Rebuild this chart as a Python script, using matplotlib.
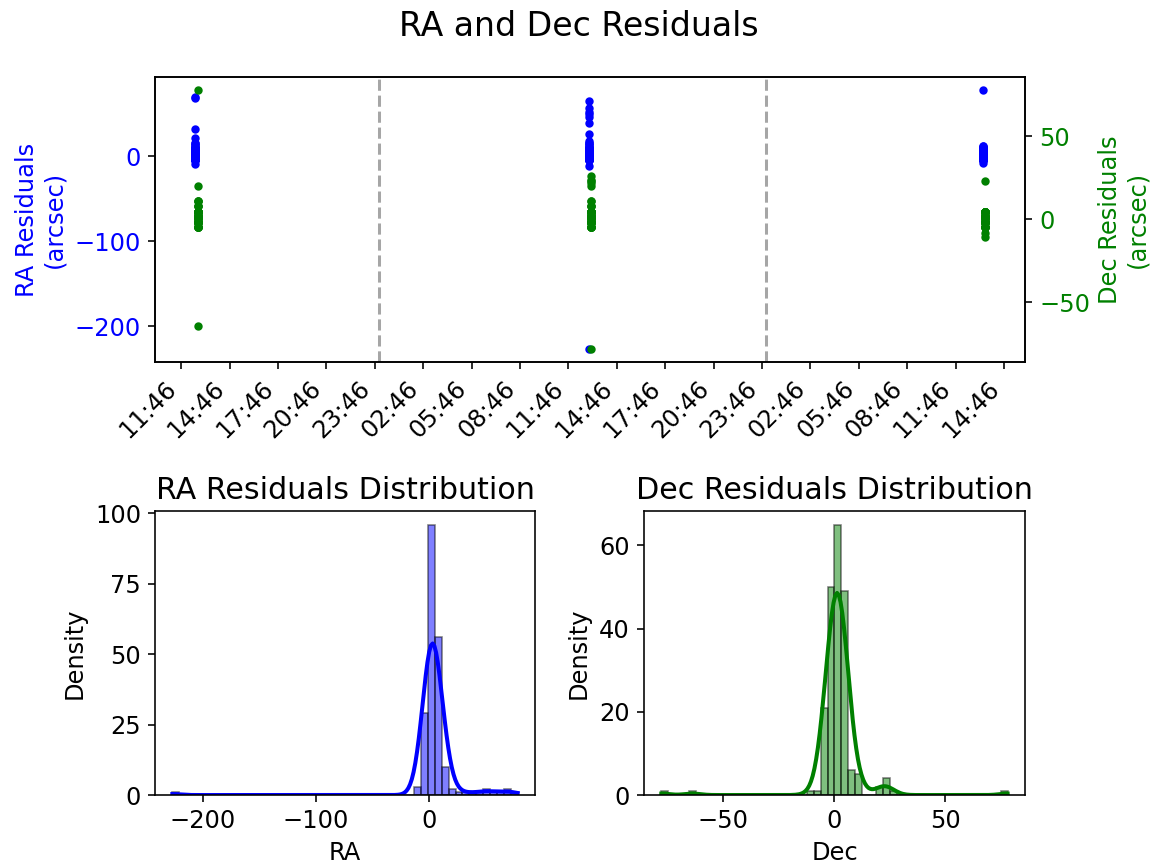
import numpy as np
import pandas as pd
import matplotlib
matplotlib.use("Agg")
import matplotlib.pyplot as plt
import matplotlib.dates as mdates

plt.rcParams["font.size"] = 12

# observation times of the three nights (RA and Dec points sit a few minutes apart)
ra_times = ["2023-01-10 12:36", "2023-01-11 13:01", "2023-01-12 13:27"]
dec_times = ["2023-01-10 12:47", "2023-01-11 13:10", "2023-01-12 13:37"]
midnights = ["2023-01-11 00:00", "2023-01-12 00:00"]
tick_start = "2023-01-10 11:46"

# RA residuals (arcsec) per night: value and how many frames gave it
ra_vals_n1 = [-9.5, -5, -3, 0, 3, 6.5, 9.5, 13, 16, 21, 32, 68, 70]
ra_cnts_n1 = [1, 5, 5, 16, 16, 10, 9, 2, 2, 1, 1, 1, 1]
ra_vals_n2 = [-227, -12, -5, -3, 0, 3, 6.5, 9.5, 13, 16, 18, 25.5, 39, 46, 50, 52, 57, 65]
ra_cnts_n2 = [1, 1, 5, 5, 16, 16, 9, 9, 2, 2, 1, 1, 1, 1, 1, 1, 1, 1]
ra_vals_n3 = [-8.5, -5, -3, 0, 3, 6.5, 9.5, 12.5, 78]
ra_cnts_n3 = [1, 5, 4, 16, 16, 10, 9, 2, 1]

# Dec residuals (arcsec) per night
dec_vals_n1 = [-64, -4.7, -1.5, 1.5, 4.7, 7.8, 11, 20, 78]
dec_cnts_n1 = [1, 7, 16, 22, 16, 3, 3, 1, 1]
dec_vals_n2 = [-78, -4.7, -1.5, 1.5, 4.7, 7.8, 11, 20, 22, 23, 24, 26]
dec_cnts_n2 = [1, 7, 17, 22, 17, 3, 2, 1, 1, 1, 1, 1]
dec_vals_n3 = [-10.5, -8, -4.7, -1.5, 1.5, 4.7, 23]
dec_cnts_n3 = [1, 1, 7, 17, 21, 16, 1]


def expand(vals, cnts):
    return np.repeat(np.array(vals, dtype=float), cnts)


ra_nights = [expand(ra_vals_n1, ra_cnts_n1), expand(ra_vals_n2, ra_cnts_n2), expand(ra_vals_n3, ra_cnts_n3)]
dec_nights = [expand(dec_vals_n1, dec_cnts_n1), expand(dec_vals_n2, dec_cnts_n2), expand(dec_vals_n3, dec_cnts_n3)]

ra = np.concatenate(ra_nights)
dec = np.concatenate(dec_nights)
t_ra = np.concatenate([[pd.Timestamp(t).to_pydatetime()] * len(v) for t, v in zip(ra_times, ra_nights)])
t_dec = np.concatenate([[pd.Timestamp(t).to_pydatetime()] * len(v) for t, v in zip(dec_times, dec_nights)])


def kde_counts(x, bins=50, npts=200):
    # gaussian kde (scott), scaled to counts like a histogram with kde line
    n = len(x)
    bw = np.std(x, ddof=1) * n ** (-1 / 5)
    grid = np.linspace(x.min(), x.max(), npts)
    dens = np.exp(-0.5 * ((grid[:, None] - x[None, :]) / bw) ** 2).sum(axis=1)
    dens = dens / (n * bw * np.sqrt(2 * np.pi))
    binw = (x.max() - x.min()) / bins
    return grid, dens * n * binw


fig = plt.figure(figsize=(8, 5.99), dpi=144.75)
fig.suptitle("RA and Dec Residuals", fontsize=16.5, y=0.988)

ax1 = fig.add_axes([0.1339, 0.5825, 0.7512, 0.3287])
ax2 = ax1.twinx()

ax1.scatter(t_ra, ra, s=10, color="blue")
ax2.scatter(t_dec, dec, s=10, color="green")
for m in midnights:
    ax1.axvline(pd.Timestamp(m).to_pydatetime(), color="gray", linestyle="--", alpha=0.7, linewidth=1.5)

ticks = pd.date_range(tick_start, periods=18, freq="3h").to_pydatetime()
ax1.set_xticks(ticks)
ax1.xaxis.set_major_formatter(mdates.DateFormatter("%H:%M"))
plt.setp(ax1.get_xticklabels(), rotation=45, ha="right")

ax1.set_ylabel("RA Residuals\n(arcsec)", color="blue")
ax1.tick_params(axis="y", labelcolor="blue")
ax2.set_ylabel("Dec Residuals\n(arcsec)", color="green")
ax2.tick_params(axis="y", labelcolor="green")

# histograms
ax3 = fig.add_axes([0.1339, 0.083, 0.3281, 0.3276])
ax4 = fig.add_axes([0.5561, 0.083, 0.3290, 0.3276])

for ax, x, col, name in [(ax3, ra, "blue", "RA"), (ax4, dec, "green", "Dec")]:
    ax.hist(x, bins=50, color=col, alpha=0.5, edgecolor="black", linewidth=0.8)
    gx, gy = kde_counts(x)
    ax.plot(gx, gy, color=col, linewidth=2)
    ax.set_title(name + " Residuals Distribution", fontsize=15)
    ax.set_xlabel(name)
    ax.set_ylabel("Density")

fig.savefig("out.png", dpi=144.75)
